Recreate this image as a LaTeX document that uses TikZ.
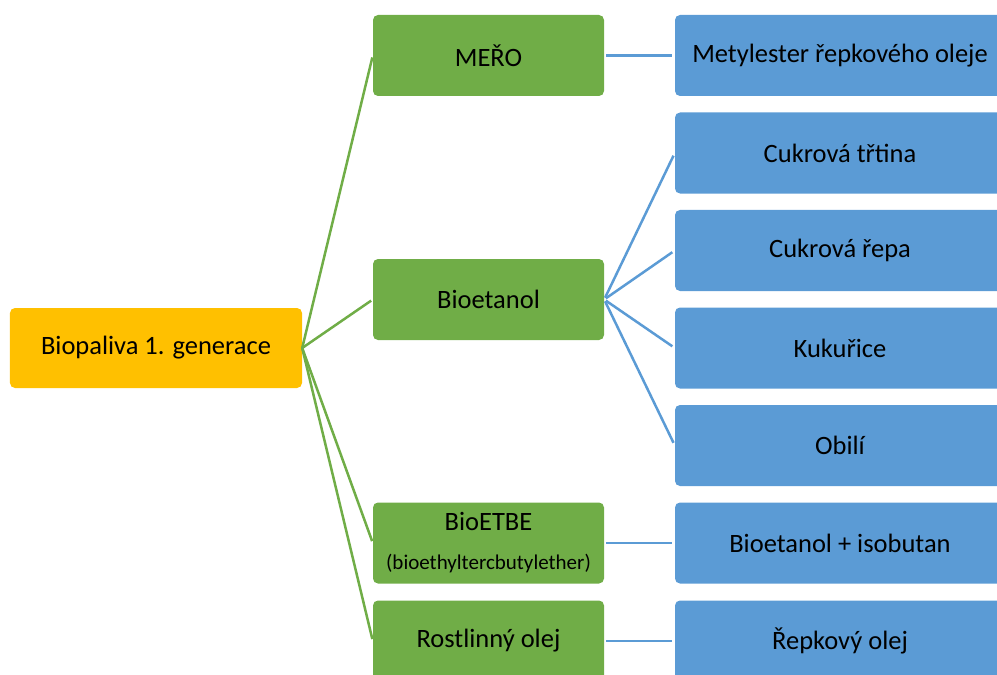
\documentclass[tikz,border=0pt]{standalone}
\usepackage{fontspec}
\setmainfont{Carlito}
\definecolor{yellowc}{HTML}{FFC000}
\definecolor{greenc}{HTML}{70AD47}
\definecolor{bluec}{HTML}{5B9BD5}
\begin{document}
\begin{tikzpicture}[x=1bp,y=-1bp,
 box/.style={rectangle, rounded corners=5bp, draw=none, inner sep=0pt, minimum height=81bp, font=\fontsize{26.5bp}{30bp}\selectfont, text=black, align=center},
 rootbox/.style={box, fill=yellowc, minimum width=292bp, minimum height=80bp},
 gbox/.style={box, fill=greenc, minimum width=231bp},
 bbox/.style={box, fill=bluec, minimum width=330bp},
 gline/.style={draw=greenc, line width=2.5bp, shorten >=2bp},
 bline/.style={draw=bluec, line width=2.5bp, shorten <=2bp, shorten >=3bp}]
\useasboundingbox (0,0) rectangle (997,675);
\clip (0,0) rectangle (997,675);
\node[rootbox] (root) at (156,348) {Biopaliva 1. generace};
\node[gbox] (mero) at (488.5,55.5) {MEŘO};
\node[gbox] (bioet) at (488.5,299.5) {Bioetanol};
\node[gbox] (etbe) at (488.5,543) {BioETBE\\[9bp]{\fontsize{21bp}{24bp}\selectfont (bioethyltercbutylether)}};
\node[gbox] (rost) at (488.5,641) {Rostlinný olej};
\node[bbox] (metyl) at (840,55.5) {Metylester řepkového oleje};
\node[bbox] (trtina) at (840,153) {Cukrová třtina};
\node[bbox] (repa) at (840,250.5) {Cukrová řepa};
\node[bbox] (kuk) at (840,348) {Kukuřice};
\node[bbox] (obili) at (840,445.5) {Obilí};
\node[bbox] (isob) at (840,543) {Bioetanol + isobutan};
\node[bbox] (repk) at (840,641) {Řepkový olej};
\draw[gline] (root.east) -- (mero.west);
\draw[gline] (root.east) -- (bioet.west);
\draw[gline] (root.east) -- (etbe.west);
\draw[gline] (root.east) -- (rost.west);
\draw[bline] (mero.east) -- (metyl.west);
\draw[bline] (bioet.east) -- (trtina.west);
\draw[bline] (bioet.east) -- (repa.west);
\draw[bline] (bioet.east) -- (kuk.west);
\draw[bline] (bioet.east) -- (obili.west);
\draw[bline] (etbe.east) -- (isob.west);
\draw[bline] (rost.east) -- (repk.west);
\end{tikzpicture}
\end{document}
